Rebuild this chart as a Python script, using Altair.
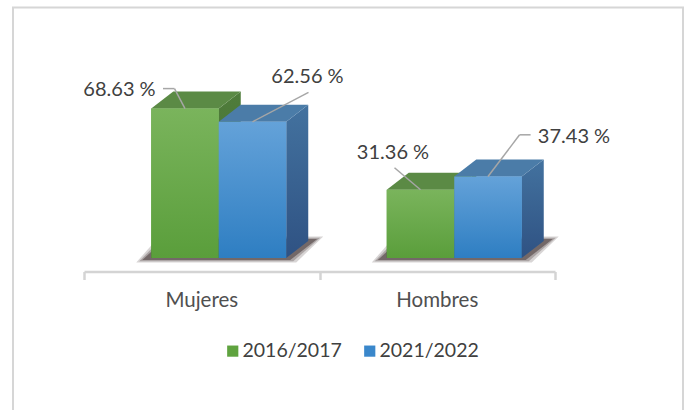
import altair as alt
import pandas as pd

# ---------------- data ----------------
categories = ["Mujeres", "Hombres"]
series = ["2016/2017", "2021/2022"]
values_2016_2017 = [68.63, 31.36]
values_2021_2022 = [62.56, 37.43]

# ---------------- style (pixels) ----------------
PLOT_W, PLOT_H = 471, 228
PAD = {"left": 84, "top": 30, "right": 686 - 84 - 471, "bottom": 410 - 30 - 228}
Y_MAX = 104.73
PXX = PLOT_W / 2.0          # px per category slot
PXY = PLOT_H / Y_MAX        # px per percent
BAR_W = 67.5
PAIR_SHIFT = -50.5          # left edge of first bar relative to category centre
DX, DY = 22.0, 17.0         # 3-D depth
# leader/label placement per bar (Mujeres 16/17, Mujeres 21/22, Hombres 16/17, Hombres 21/22)
LEADER_ELBOW = [(-10.5, -20), (56, -29.4), (-26, -22), (31.6, -41.7)]
LEADER_END = [(-22, -20), (56, -29.4), (-26, -22), (42.6, -41.7)]
LABEL_POS = [(-65.5, -18.5), (55, -44.5), (-27.5, -37), (86, -40)]

COLORS = {
    "2016/2017": dict(front=("#7ab45c", "#5a9e3b"), top="#5b8a45", side=("#4f7c3b", "#44702f"), legend="#5fa33f"),
    "2021/2022": dict(front=("#64a2d9", "#2e7ec2"), top="#4b7ca8", side=("#43729f", "#2f5283"), legend="#3a87cb"),
}
TEXT = "#404040"
FONT = "Lato"

values = {"2016/2017": values_2016_2017, "2021/2022": values_2021_2022}

bars, sides, tops, shadows, leaders, labels = [], [], [], [], [], []
k = 0
for i, cat in enumerate(categories):
    g0 = i + PAIR_SHIFT / PXX
    g1 = g0 + 2 * BAR_W / PXX
    for grow, ex in enumerate([0, 3, 6]):
        e = ex / PXX
        sid = f"{cat}-{grow}"
        shadows.append(dict(sid=sid, lvl=grow, y=-(2 + ex * 0.4) / PXY, x=g0 - 9 / PXX - e, x2=g1 + 4 / PXX + e))
        shadows.append(dict(sid=sid, lvl=grow, y=(DY + 2 + ex * 0.4) / PXY, x=g0 + (DX - 8) / PXX - e, x2=g1 + (DX + 9) / PXX + e))
    for j, s in enumerate(series):
        v = values[s][i]
        x0 = i + (PAIR_SHIFT + j * BAR_W) / PXX
        x1 = x0 + BAR_W / PXX
        xc = (x0 + x1) / 2
        bid = f"{cat}-{s}"
        bars.append(dict(bar=bid, series=s, cat=cat, x0=x0, x1=x1, v=v))
        sides.append(dict(bar=bid, series=s, x=x1, y=v, y2=0))
        sides.append(dict(bar=bid, series=s, x=x1 + DX / PXX, y=v + DY / PXY, y2=DY / PXY))
        tops.append(dict(bar=bid, series=s, y=v, x=x0, x2=x1))
        tops.append(dict(bar=bid, series=s, y=v + DY / PXY, x=x0 + DX / PXX, x2=x1 + DX / PXX))
        ex_, ey_ = LEADER_ELBOW[k]
        nx_, ny_ = LEADER_END[k]
        ax, ay = xc + ex_ / PXX, v - ey_ / PXY
        leaders.append(dict(x=xc, y=v, x2=ax, y2=ay))
        if (nx_, ny_) != (ex_, ey_):
            leaders.append(dict(x=ax, y=ay, x2=xc + nx_ / PXX, y2=v - ny_ / PXY))
        lx, ly = LABEL_POS[k]
        labels.append(dict(x=xc + lx / PXX, y=v - ly / PXY, text=f"{v:.2f} %"))
        k += 1

bars_df = pd.DataFrame(bars)
sides_df = pd.DataFrame(sides)
tops_df = pd.DataFrame(tops)
shadow_df = pd.DataFrame(shadows)
leader_df = pd.DataFrame(leaders)
label_df = pd.DataFrame(labels)
cat_df = pd.DataFrame({"cat": categories, "idx": list(range(len(categories)))})

xs = alt.Scale(domain=[-0.5, 1.5], nice=False, zero=False)
ys = alt.Scale(domain=[0, Y_MAX], nice=False, zero=False)

XAXIS = alt.Axis(values=[-0.5, 0.5, 1.5], labels=False, title="", grid=False,
                 domainColor="#d4d4d4", domainWidth=2.5, tickColor="#d4d4d4",
                 tickWidth=2.5, tickSize=8, offset=13.5, zindex=1)


def X(f):
    return alt.X(f, type="quantitative", scale=xs, axis=XAXIS)


def Y(f):
    return alt.Y(f, type="quantitative", scale=ys, axis=None)


def grad(c):
    return alt.Gradient(gradient="linear", x1=0, x2=0, y1=0, y2=1,
                        stops=[alt.GradientStop(color=c[0], offset=0), alt.GradientStop(color=c[1], offset=1)])


layers = []

# base front bars (gives the legend)
base = alt.Chart(bars_df).mark_rect().encode(
    x=X("x0"),
    x2="x1",
    y=Y("v"),
    y2=alt.Y2(datum=0),
    color=alt.Color("series:N", scale=alt.Scale(domain=series, range=[COLORS[s]["legend"] for s in series]),
                    legend=alt.Legend(orient="none", legendX=139, legendY=311, direction="horizontal",
                                      title=None, symbolType="square", symbolSize=125, symbolStrokeWidth=0,
                                      labelFont=FONT, labelFontSize=19.5, labelColor=TEXT, labelOffset=0,
                                      columnPadding=18, padding=0)),
)
layers.append(base)

# frame
frame = alt.Chart(pd.DataFrame({"a": [0]})).mark_rect(
    filled=False, stroke="#d6d6d6", strokeWidth=2
).encode(x=alt.value(-71), x2=alt.value(599), y=alt.value(-22.5), y2=alt.value(395))
layers.append(frame)

# shadows
for lvl, op in [(2, 0.2), (1, 0.28), (0, 0.5)]:
    layers.append(
        alt.Chart(shadow_df).transform_filter(alt.datum.lvl == lvl).mark_area(
            orient="horizontal", color="#3a2c2c", opacity=op
        ).encode(y=Y("y"), x=X("x"), x2="x2", detail="sid:N")
    )

for s in series:
    c = COLORS[s]
    layers.append(
        alt.Chart(sides_df).transform_filter(alt.datum.series == s).mark_area(color=grad(c["side"]))
        .encode(x=X("x"), y=Y("y"), y2="y2", detail="bar:N")
    )
    layers.append(
        alt.Chart(tops_df).transform_filter(alt.datum.series == s).mark_area(orient="horizontal", color=c["top"])
        .encode(y=Y("y"), x=X("x"), x2="x2", detail="bar:N")
    )
    layers.append(
        alt.Chart(bars_df).transform_filter(alt.datum.series == s).mark_rect(color=grad(c["front"]))
        .encode(x=X("x0"), x2="x1", y=Y("v"), y2=alt.Y2(datum=0))
    )

layers.append(
    alt.Chart(leader_df).mark_rule(color="#a6a6a6", strokeWidth=1.5)
    .encode(x=X("x"), y=Y("y"), x2="x2", y2="y2")
)
layers.append(
    alt.Chart(label_df).mark_text(font=FONT, fontSize=20, color=TEXT, align="center", baseline="middle")
    .encode(x=X("x"), y=Y("y"), text="text:N")
)
layers.append(
    alt.Chart(cat_df).mark_text(font=FONT, fontSize=20.5, color="#505050", align="center", baseline="middle")
    .encode(x=X("idx"), y=alt.value(271), text="cat:N")
)

chart = alt.layer(*layers).properties(
    width=PLOT_W, height=PLOT_H,
    autosize=alt.AutoSizeParams(type="none"),
    padding=PAD,
    background="white",
).configure_view(strokeWidth=0, strokeOpacity=0)

chart.save("out.html", embed_options={"renderer": "svg", "actions": False})
